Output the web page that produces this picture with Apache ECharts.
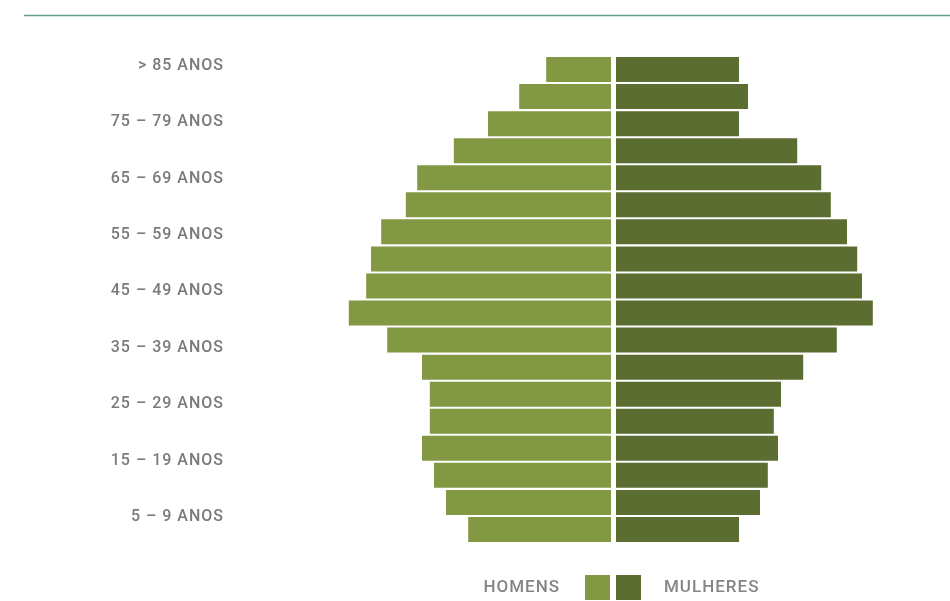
<!DOCTYPE html>
<html>
<head>
<meta charset="utf-8">
<script src="https://cdn.jsdelivr.net/npm/echarts@6/dist/echarts.min.js"></script>
<style>html,body{margin:0;padding:0;background:#fff}#c{width:950px;height:601px}</style>
</head>
<body>
<div id="c"></div>
<script>
const categories = ['0 – 4 ANOS','5 – 9 ANOS','10 – 14 ANOS','15 – 19 ANOS','20 – 24 ANOS','25 – 29 ANOS','30 – 34 ANOS','35 – 39 ANOS','40 – 44 ANOS','45 – 49 ANOS','50 – 54 ANOS','55 – 59 ANOS','60 – 64 ANOS','65 – 69 ANOS','70 – 74 ANOS','75 – 79 ANOS','80 – 84 ANOS','> 85 ANOS'];
const homens = [2.38, 2.75, 2.95, 3.15, 3.02, 3.02, 3.15, 3.73, 4.37, 4.08, 4.00, 3.83, 3.42, 3.23, 2.62, 2.05, 1.53, 1.08];
const mulheres = [2.05, 2.40, 2.53, 2.70, 2.63, 2.75, 3.12, 3.68, 4.28, 4.10, 4.02, 3.85, 3.58, 3.42, 3.02, 2.05, 2.20, 2.05];
const seriesNames = ['HOMENS', 'MULHERES'];

const chart = echarts.init(document.getElementById('c'), null, {renderer: 'canvas'});
const font = 'Roboto, "Noto Sans", sans-serif';
chart.setOption({
  animation: false,
  color: ['#839843', '#5b6d30'],
  grid: [
    {left: 311, width: 300, top: 56, height: 487},
    {left: 616, width: 300, top: 56, height: 487},
    {left: 311, width: 300, top: 51.5, height: 508}
  ],
  xAxis: [
    {gridIndex: 0, type: 'value', min: 0, max: 5, inverse: true, show: false},
    {gridIndex: 1, type: 'value', min: 0, max: 5, show: false},
    {gridIndex: 2, type: 'value', min: 0, max: 5, show: false}
  ],
  yAxis: [
    {gridIndex: 0, type: 'category', data: categories, show: false},
    {gridIndex: 1, type: 'category', data: categories, show: false},
    {gridIndex: 2, type: 'category', data: categories,
     axisLine: {show: false}, axisTick: {show: false}, splitLine: {show: false},
     axisLabel: {margin: 87, color: '#7a7a7a', fontSize: 16, fontWeight: 500, fontFamily: font,
       interval: function (i) { return i % 2 === 1; }}}
  ],
  legend: [
    {data: [seriesNames[0]], right: 335, top: 570, align: 'right', icon: 'rect',
     itemWidth: 25, itemHeight: 25, selectedMode: false,
     textStyle: {color: '#858585', fontSize: 17, fontWeight: 500, fontFamily: font, padding: [0, 20, 0, 0]}},
    {data: [seriesNames[1]], left: 611, top: 570, align: 'left', icon: 'rect',
     itemWidth: 25, itemHeight: 25, selectedMode: false,
     textStyle: {color: '#858585', fontSize: 17, fontWeight: 500, fontFamily: font, padding: [0, 0, 0, 18]}}
  ],
  graphic: [
    {type: 'line', shape: {x1: 24, y1: 15.5, x2: 950, y2: 15.5}, style: {stroke: '#5e9b85', lineWidth: 1.5}}
  ],
  series: [
    {name: seriesNames[0], type: 'bar', xAxisIndex: 0, yAxisIndex: 0, data: homens, barWidth: 25, silent: true},
    {name: seriesNames[1], type: 'bar', xAxisIndex: 1, yAxisIndex: 1, data: mulheres, barWidth: 25, silent: true}
  ]
});
// letter spacing for all text (as in the reference typography)
try {
  document.querySelectorAll('#c canvas').forEach(function (cv) {
    const ctx = cv.getContext('2d');
    if ('letterSpacing' in ctx) ctx.letterSpacing = '1px';
  });
  chart.getZr().painter.refresh(true);
} catch (e) {}
</script>
</body>
</html>
